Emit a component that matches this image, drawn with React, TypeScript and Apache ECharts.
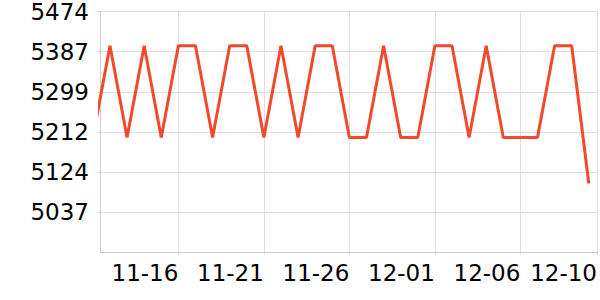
import React, { useEffect, useRef } from "react";
import * as echarts from "echarts";

const dates: string[] = [
  "2023-11-11", "2023-11-12", "2023-11-13", "2023-11-14", "2023-11-15",
  "2023-11-16", "2023-11-17", "2023-11-18", "2023-11-19", "2023-11-20",
  "2023-11-21", "2023-11-22", "2023-11-23", "2023-11-24", "2023-11-25",
  "2023-11-26", "2023-11-27", "2023-11-28", "2023-11-29", "2023-11-30",
  "2023-12-01", "2023-12-02", "2023-12-03", "2023-12-04", "2023-12-05",
  "2023-12-06", "2023-12-07", "2023-12-08", "2023-12-09", "2023-12-10",
];

const values: number[] = [
  5200, 5400, 5200, 5400, 5200,
  5400, 5400, 5200, 5400, 5400,
  5200, 5400, 5200, 5400, 5400,
  5200, 5200, 5400, 5200, 5200,
  5400, 5400, 5200, 5400, 5200,
  5200, 5200, 5400, 5400, 5100,
];

const xTickDates: string[] = ["2023-11-16", "2023-11-21", "2023-11-26", "2023-12-01", "2023-12-06"];
const xMinDate = "2023-11-11T10:00:00Z";
const xMaxDate = "2023-12-10T11:30:00Z";

const yMin = 4949.6;
const yMax = 5474.6;
const yTicks: number[] = [5037.1, 5124.6, 5212.1, 5299.6, 5387.1, 5474.6];

const toTs = (s: string) => (s.length === 10 ? Date.parse(s + "T00:00:00Z") : Date.parse(s));
const pad = (n: number) => (n < 10 ? "0" + n : "" + n);

export default function App() {
  const ref = useRef<HTMLDivElement>(null);
  useEffect(() => {
    if (!ref.current) return;
    const chart = echarts.init(ref.current, undefined, { renderer: "svg" });
    const xMin = toTs(xMinDate);
    const xMax = toTs(xMaxDate);
    const xTicks = [...xTickDates.map(toTs), xMax];
    const font = "DejaVu Sans";
    chart.setOption({
      animation: false,
      grid: { left: 100, right: 0, top: 10.5, bottom: 47.5, containLabel: false },
      xAxis: {
        type: "value",
        min: xMin,
        max: xMax,
        axisLine: { show: true, lineStyle: { color: "#cccccc", width: 1 } },
        axisTick: { show: true, length: 2, lineStyle: { color: "#cccccc" }, customValues: xTicks },
        splitLine: { show: true, lineStyle: { color: "#e0e0e0", width: 1 } },
        axisLabel: {
          customValues: xTicks,
          align: "right",
          margin: 9,
          color: "#000000",
          fontSize: 23,
          fontFamily: font,
          hideOverlap: false,
          formatter: (v: number) => {
            const d = new Date(v);
            return pad(d.getUTCMonth() + 1) + "-" + pad(d.getUTCDate());
          },
        },
      },
      yAxis: {
        type: "value",
        min: yMin,
        max: yMax,
        axisLine: { show: true, lineStyle: { color: "#cccccc", width: 1 } },
        axisTick: { show: true, length: 2, lineStyle: { color: "#cccccc" }, customValues: yTicks },
        splitLine: { show: true, lineStyle: { color: "#e0e0e0", width: 1 } },
        axisLabel: {
          customValues: yTicks,
          margin: 11,
          color: "#000000",
          fontSize: 23,
          fontFamily: font,
          formatter: (v: number) => String(Math.floor(v)),
        },
      },
      series: [
        {
          type: "line",
          data: dates.map((d, i) => [toTs(d), values[i]]),
          showSymbol: false,
          symbol: "none",
          clip: true,
          lineStyle: { color: "#ef4a2c", width: 3 },
          itemStyle: { color: "#ef4a2c" },
        },
      ],
    });
    return () => chart.dispose();
  }, []);
  return <div ref={ref} style={{ width: 600, height: 300, position: "absolute", left: 0, top: 0 }} />;
}
